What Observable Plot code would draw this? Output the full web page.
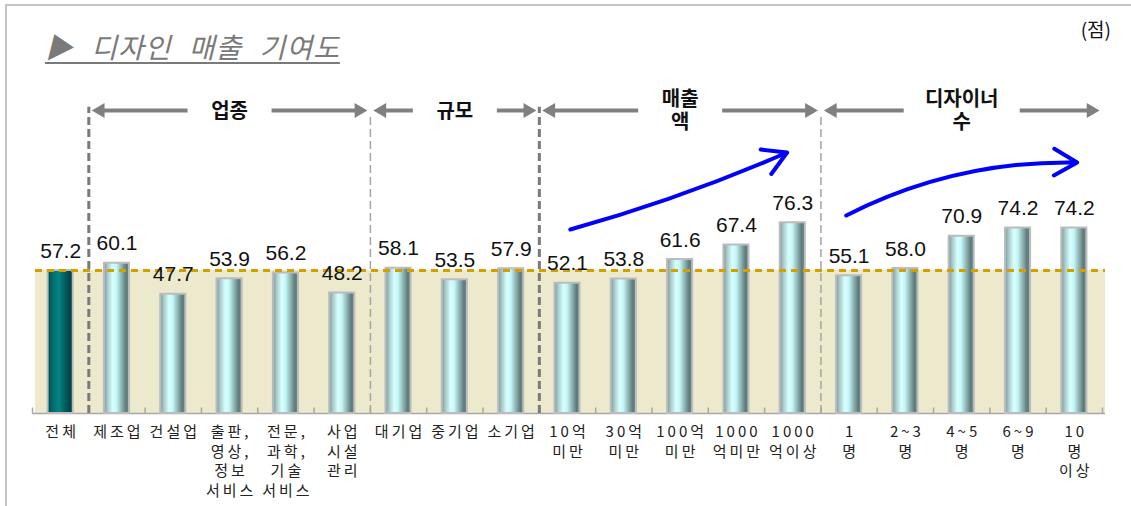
<!DOCTYPE html>
<html><head><meta charset="utf-8">
<script src="https://cdn.jsdelivr.net/npm/d3@7"></script>
<script src="https://cdn.jsdelivr.net/npm/@observablehq/plot@0.6"></script>
<style>
html,body{margin:0;padding:0;background:#fff;overflow:hidden;}
#wrap{position:relative;width:1131px;height:506px;overflow:hidden;}
#frame{position:absolute;left:5px;top:4px;width:1140px;height:520px;border-left:2px solid #c3c3c3;border-top:2px solid #c3c3c3;pointer-events:none;}
#head{position:relative;height:70px;}
#title{position:absolute;left:45px;top:32px;font-family:"Noto Sans CJK KR";font-style:italic;font-size:28px;line-height:28px;color:#7a7a7a;text-decoration:underline;text-decoration-thickness:2px;text-underline-offset:4px;letter-spacing:1px;word-spacing:10px;white-space:nowrap;}
#unit{position:absolute;right:20px;top:17px;font-family:"Noto Sans CJK KR";font-size:19px;line-height:24px;color:#111;}
#chart svg{display:block;}
</style></head>
<body><div id="wrap"><div id="head"><div id="title"></div><div id="unit"></div></div><div id="chart"></div><div id="frame"></div></div>
<script>
// ---- data ----
const titleText = "▶ 디자인 매출 기여도";
const unitLabel = "(점)";
const categories = ["전체","제조업","건설업","출판,\n영상,\n정보\n서비스","전문,\n과학,\n기술\n서비스","사업\n시설\n관리","대기업","중기업","소기업","10억\n미만","30억\n미만","100억\n미만","1000\n억미만","1000\n억이상","1\n명","2~3\n명","4~5\n명","6~9\n명","10\n명\n이상"];
const values = [57.2,60.1,47.7,53.9,56.2,48.2,58.1,53.5,57.9,52.1,53.8,61.6,67.4,76.3,55.1,58.0,70.9,74.2,74.2];
const groupOf = ["","업종","업종","업종","업종","업종","규모","규모","규모","매출\n액","매출\n액","매출\n액","매출\n액","매출\n액","디자이너\n수","디자이너\n수","디자이너\n수","디자이너\n수","디자이너\n수"];
// trend arrows (x in category index units, y in score units)
const trendArrows = [
  {x1: 9.05, y1: 73.6, x2: 12.9, y2: 104.4},
  {x1: 13.95, y1: 79.2, x2: 18.05, y2: 100.4}
];

document.getElementById("title").textContent = titleText;
document.getElementById("unit").textContent = unitLabel;

// ---- layout ----
const W = 1131, H = 436, ML = 32, MR = 29, MB = 93;
const n = categories.length;
const step = (W - ML - MR) / n;
const yTop = 137.2, headerY = 121.2;
const average = values[0];

const data = categories.map((label, i) => ({i, label, value: values[i], group: groupOf[i]}));
const groups = d3.groups(data.filter(d => d.group), d => d.group).map(([name, items], k) => {
  const first = d3.min(items, d => d.i), last = d3.max(items, d => d.i);
  const half = (26 + 8 * d3.max(name.split("\n"), s => s.length)) / step;
  return {name, k, start: first - 0.5, end: last + 0.5, center: (first + last) / 2, half};
});
const boundaries = d3.range(n + 1).map(i => i - 0.5);
const pad = 3 / step;

const chart = Plot.plot({
  width: W, height: H,
  marginLeft: ML, marginRight: MR, marginTop: 0, marginBottom: MB,
  style: {background: "transparent", overflow: "visible"},
  x: {type: "linear", domain: [-0.5, n - 0.5], axis: null},
  y: {domain: [0, yTop], axis: null},
  marks: [
    Plot.rect([average], {x1: () => -0.5 + pad, x2: () => n - 0.5 + pad, y1: () => 0, y2: d => d, fill: "#ECE9CD"}),
    Plot.ruleY([0], {x1: () => -0.5, x2: () => n - 0.5 + pad, stroke: "#a8a8a8", strokeWidth: 1.5}),
    Plot.ruleX(boundaries, {y1: () => 0, y2: () => 2.2, stroke: "#a8a8a8", strokeWidth: 1.5}),
    Plot.ruleX(groups.filter(g => g.k % 2 === 0), {x: "start", y1: () => 0, y2: () => 122.5, stroke: "#7a7a7a", strokeWidth: 3, strokeDasharray: "8,4"}),
    Plot.ruleX(groups.filter(g => g.k % 2 === 1), {x: "start", y1: () => 0, y2: () => 120, stroke: "#a5a5a5", strokeWidth: 1.5, strokeDasharray: "8,4"}),
    Plot.rect(data.filter(d => d.i > 0), {x1: d => d.i - 0.5, x2: d => d.i + 0.5, y1: () => 0, y2: "value", insetLeft: 15.6, insetRight: 15.6, fill: "url(#cyl)", stroke: "#bcbcbc", strokeWidth: 2}),
    Plot.rect(data.filter(d => d.i === 0), {x1: d => d.i - 0.5, x2: d => d.i + 0.5, y1: () => 0, y2: "value", insetLeft: 15.6, insetRight: 15.6, fill: "url(#cylDark)", stroke: "#bcbcbc", strokeWidth: 2}),
    Plot.ruleY([average], {x1: () => -0.5 + pad, x2: () => n - 0.5 + pad, stroke: "#D4A000", strokeWidth: 3, strokeDasharray: "7,5"}),
    Plot.text(data, {x: "i", y: "value", text: d => d.value.toFixed(1), lineAnchor: "bottom", dy: -13, fontSize: 21, fontFamily: "Liberation Sans, Arial, sans-serif", fill: "#111"}),
    Plot.text(data, {x: "i", text: "label", frameAnchor: "bottom", lineAnchor: "top", dy: 10, dx: 1.5, fontSize: 15, lineHeight: 1.3, fontFamily: "Noto Sans CJK KR", fill: "#222", ariaDescription: "ticklabels"}),
    Plot.link(groups, {x1: g => g.start + 8 / step, x2: g => g.center - g.half, y1: () => headerY, y2: () => headerY, stroke: "#808080", strokeWidth: 4}),
    Plot.link(groups, {x1: g => g.center + g.half, x2: g => g.end - 8 / step, y1: () => headerY, y2: () => headerY, stroke: "#808080", strokeWidth: 4}),
    Plot.dot(groups, {x: "start", y: () => headerY, symbol: "triangle", r: 5.5, rotate: -90, dx: 11.5, fill: "#808080", stroke: "none"}),
    Plot.dot(groups, {x: "end", y: () => headerY, symbol: "triangle", r: 5.5, rotate: 90, dx: -11.5, fill: "#808080", stroke: "none"}),
    Plot.text(groups, {x: "center", y: () => headerY, text: "name", fontSize: 20, fontWeight: "bold", lineHeight: 1.15, fontFamily: "Noto Sans CJK KR", fill: "#111"}),
    Plot.arrow(trendArrows.slice(0, 1), {x1: "x1", y1: "y1", x2: "x2", y2: "y2", bend: -4, stroke: "#0000FF", strokeWidth: 4, headLength: 10}),
    Plot.arrow(trendArrows.slice(1, 2), {x1: "x1", y1: "y1", x2: "x2", y2: "y2", bend: 14, stroke: "#0000FF", strokeWidth: 4, headLength: 10})
  ]
});

const svg = d3.select(chart);
const defs = svg.insert("defs", ":first-child");
function grad(id, stops) {
  const g = defs.append("linearGradient").attr("id", id).attr("x1", "0").attr("x2", "1").attr("y1", "0").attr("y2", "0");
  stops.forEach(([o, c]) => g.append("stop").attr("offset", o).attr("stop-color", c));
}
grad("cyl", [[0, "#7d9797"], [0.15, "#a9cbcb"], [0.35, "#d8ffff"], [0.5, "#c5f7f7"], [0.7, "#8fb4b4"], [0.88, "#5d7b7b"], [1, "#6f8a8a"]]);
grad("cylDark", [[0, "#014a4a"], [0.2, "#016c6c"], [0.45, "#048585"], [0.7, "#015d5d"], [1, "#013a3a"]]);
svg.selectAll('g[aria-description="ticklabels"]').attr("letter-spacing", "3px");

document.getElementById("chart").appendChild(chart);
</script></body></html>
